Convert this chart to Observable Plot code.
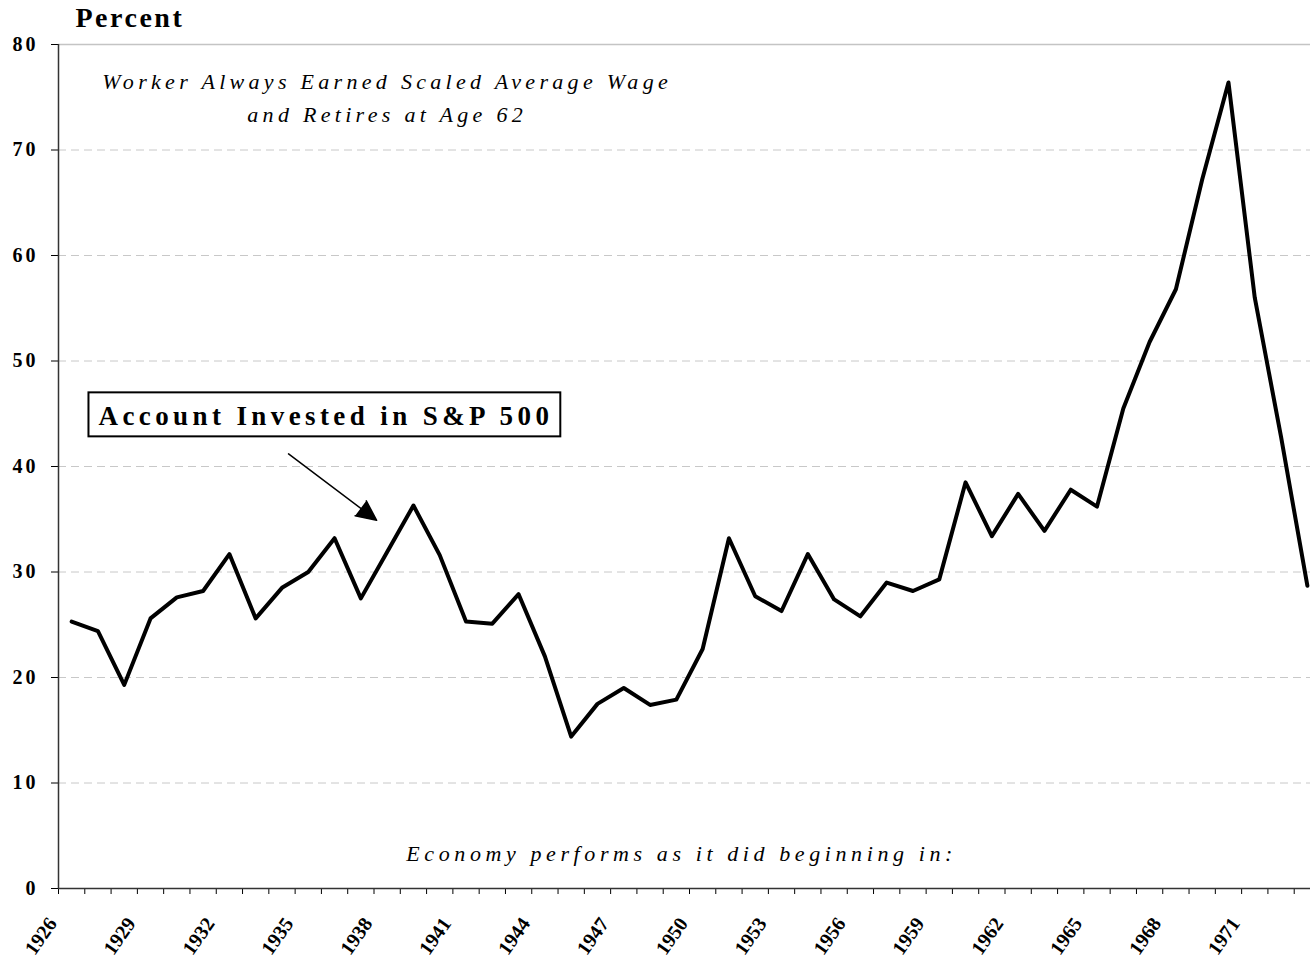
<!DOCTYPE html>
<html>
<head>
<meta charset="utf-8">
<script src="https://cdn.jsdelivr.net/npm/d3@7"></script>
<script src="https://cdn.jsdelivr.net/npm/@observablehq/plot@0.6"></script>
<style>
  html, body { margin: 0; padding: 0; background: #fff; overflow: hidden; }
  #chart svg { display: block; }
</style>
</head>
<body>
<div id="chart"></div>
<script>
// Categories: year in which the economy's performance begins
const years = [1926, 1927, 1928, 1929, 1930, 1931, 1932, 1933, 1934, 1935,
  1936, 1937, 1938, 1939, 1940, 1941, 1942, 1943, 1944, 1945,
  1946, 1947, 1948, 1949, 1950, 1951, 1952, 1953, 1954, 1955,
  1956, 1957, 1958, 1959, 1960, 1961, 1962, 1963, 1964, 1965,
  1966, 1967, 1968, 1969, 1970, 1971, 1972, 1973];

// Account Invested in S&P 500 (percent)
const sp500 = [25.3, 24.4, 19.3, 25.6, 27.6, 28.2, 31.7, 25.6, 28.5, 30.0,
  33.2, 27.5, 31.9, 36.3, 31.6, 25.3, 25.1, 27.9, 22.0, 14.4,
  17.5, 19.0, 17.4, 17.9, 22.7, 33.2, 27.7, 26.3, 31.7, 27.4,
  25.8, 29.0, 28.2, 29.3, 38.5, 33.4, 37.4, 33.9, 37.8, 36.2,
  45.5, 51.8, 56.8, 67.2, 76.4, 56.0, 42.8, 28.7];

const yTicks = [0, 10, 20, 30, 40, 50, 60, 70, 80];
const xTickLabels = [1926, 1929, 1932, 1935, 1938, 1941, 1944, 1947, 1950,
  1953, 1956, 1959, 1962, 1965, 1968, 1971];

const yTitle = "Percent";
const scenarioNote = "Worker Always Earned Scaled Average Wage\nand Retires at Age 62";
const xCaption = "Economy performs as it did beginning in:";
const seriesLabel = "Account Invested in S&P 500";

const data = years.map((year, i) => ({year, value: sp500[i]}));
const boundaries = years.map(y => y - 0.5).concat([years[years.length - 1] + 0.5]);
const xDomain = [boundaries[0], boundaries[boundaries.length - 1]];

const plot = Plot.plot({
  width: 1310,
  height: 958,
  marginLeft: 58,
  marginRight: 0,
  marginTop: 44,
  marginBottom: 70,
  style: {background: "#fff", color: "#000", fontFamily: "'Liberation Serif', 'Times New Roman', serif"},
  x: {type: "linear", domain: xDomain, range: [58, 1320]},
  y: {domain: [0, 80], range: [888, 44]},
  marks: [
    Plot.ruleY(yTicks.filter(d => d > 0 && d < 80), {stroke: "#c8c8c8", strokeWidth: 1, strokeDasharray: "8,5"}),
    Plot.ruleY([80], {stroke: "#c4c4c4", strokeWidth: 1.5}),
    Plot.axisY({ticks: yTicks, tickSize: 7, tickPadding: 13, tickFormat: d => String(d),
      fontSize: 20, fontWeight: "bold", label: null, stroke: "#000", fill: "#000"}),
    Plot.axisX({ticks: boundaries, tickSize: 6, tickFormat: () => "", label: null, stroke: "#000"}),
    Plot.ruleX([xDomain[0]], {stroke: "#333", strokeWidth: 1.5}),
    Plot.ruleY([0], {stroke: "#333", strokeWidth: 1.5}),
    Plot.text(xTickLabels, {x: d => d, text: d => String(d), frameAnchor: "bottom",
      rotate: -55, textAnchor: "end", lineAnchor: "bottom", dx: -14, dy: 35,
      fontSize: 20, fontWeight: "bold", fill: "#000"}),
    Plot.lineY(data, {x: "year", y: "value", stroke: "#000", strokeWidth: 4, strokeLinejoin: "round"}),
    Plot.text([yTitle], {text: d => d, frameAnchor: "top-left", dx: 17, dy: -18,
      textAnchor: "start", lineAnchor: "bottom", fontSize: 28, fontWeight: "bold", fill: "#000"}),
    Plot.text([scenarioNote], {text: d => d, x: 1938, y: 72.7, textAnchor: "middle", lineAnchor: "bottom",
      lineHeight: 1.5, fontSize: 22, fontStyle: "italic", fill: "#000"}),
    Plot.text([xCaption], {text: d => d, x: 1949.2, y: 2.65, textAnchor: "middle", lineAnchor: "bottom",
      fontSize: 22, fontStyle: "italic", fill: "#000"}),
    Plot.text([seriesLabel], {text: d => d, x: 1935.67, y: 43.9, textAnchor: "middle", lineAnchor: "bottom",
      fontSize: 27, fontWeight: "bold", fill: "#000"}),
    Plot.arrow([{x1: 1934.25, y1: 41.2, x2: 1937.6, y2: 34.9}], {x1: "x1", y1: "y1", x2: "x2", y2: "y2",
      stroke: "#000", fill: "#000", strokeWidth: 1.5, headLength: 22, headAngle: 50})
  ]
});

document.getElementById("chart").appendChild(plot);

// Letter spacing by text content (Excel-style expanded spacing)
const spacing = [
  [t => yTicks.map(String).includes(t), "3px"],
  [t => t === yTitle, "2.5px"],
  [t => t.startsWith("Worker Always"), "4.3px"],
  [t => t === xCaption, "4.6px"],
  [t => t === seriesLabel, "4.4px"]
];
let seriesNode = null;
d3.select(plot).selectAll("text").each(function() {
  const t = this.textContent;
  for (const [test, ls] of spacing) {
    if (test(t)) { this.style.letterSpacing = ls; break; }
  }
  if (t === seriesLabel) seriesNode = this;
});

// Box around the series label
if (seriesNode) {
  const bb = seriesNode.getBBox();
  const rect = document.createElementNS("http://www.w3.org/2000/svg", "rect");
  rect.setAttribute("x", bb.x - 10);
  rect.setAttribute("y", bb.y - 9);
  rect.setAttribute("width", bb.width + 17);
  rect.setAttribute("height", bb.height + 14);
  rect.setAttribute("fill", "#fff");
  rect.setAttribute("stroke", "#000");
  rect.setAttribute("stroke-width", 2);
  const tr = seriesNode.getAttribute("transform");
  if (tr) rect.setAttribute("transform", tr);
  seriesNode.parentNode.insertBefore(rect, seriesNode);
}
</script>
</body>
</html>
